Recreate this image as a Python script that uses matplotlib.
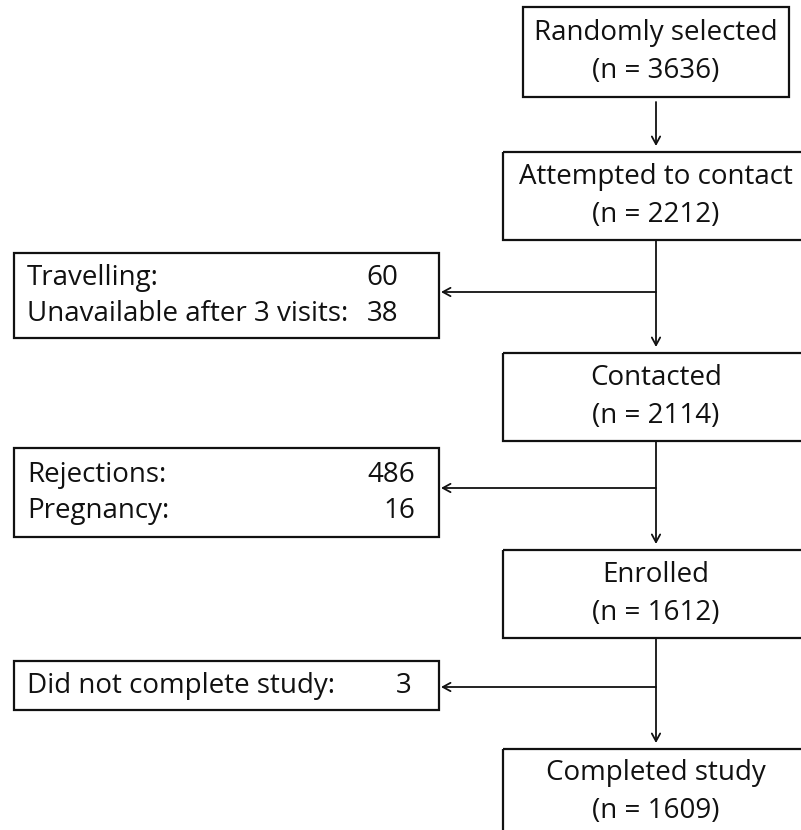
import matplotlib
matplotlib.use("Agg")
import matplotlib.pyplot as plt
from matplotlib.patches import Rectangle

# flow stages (right column)
stage_labels = ["Randomly selected", "Attempted to contact", "Contacted",
                "Enrolled", "Completed study"]
stage_counts = [3636, 2212, 2114, 1612, 1609]

# exclusions (left column), one box between consecutive stages
excl_labels = [["Travelling:", "Unavailable after 3 visits:"],
               ["Rejections:", "Pregnancy:"],
               ["Did not complete study:"]]
excl_counts = [[60, 38], [486, 16], [3]]

plt.rcParams['font.family'] = ['Open Sans', 'DejaVu Sans']
FS = 20
INK = "#111111"

fig = plt.figure(figsize=(8.01, 8.30), dpi=100)
ax = fig.add_axes([0, 0, 1, 1])
ax.set_xlim(0, 801)
ax.set_ylim(830, 0)
ax.axis("off")

cx = 656
# box geometry in pixels: (left, right, top, bottom)
stage_boxes = [(523, 789, 7, 97), (503, 809, 152, 240), (503, 809, 353, 441),
               (503, 809, 550, 638), (503, 809, 749, 837)]
excl_boxes = [(14, 439, 253, 338), (14, 439, 448, 537), (14, 439, 661, 710)]
excl_arrow_y = [292, 488, 687]

def box(l, r, t, b):
    ax.add_patch(Rectangle((l, t), r - l, b - t, fill=False, ec=INK, lw=1.6,
                           clip_on=False))

def arrow(x0, y0, x1, y1):
    ax.annotate("", xy=(x1, y1), xytext=(x0, y0),
                arrowprops=dict(arrowstyle="->,head_length=0.55,head_width=0.3",
                                color=INK, lw=1.3, shrinkA=0, shrinkB=0))

for (l, r, t, b), lab, n in zip(stage_boxes, stage_labels, stage_counts):
    box(l, r, t, b)
    mid = (t + b) / 2 if b < 830 else 792
    ax.text(cx, mid - 19, lab, ha="center", va="center", fontsize=FS, color=INK)
    ax.text(cx, mid + 19, f"(n = {n})", ha="center", va="center", fontsize=FS, color=INK)

# vertical connectors between stages
for i in range(len(stage_boxes) - 1):
    b = stage_boxes[i][3]
    t = stage_boxes[i + 1][2]
    arrow(cx, b + 5 if i == 0 else b, cx, t - 6)

# exclusion boxes
num_right = [398, 415, 412]
for (l, r, t, b), labs, vals, ay, nr in zip(excl_boxes, excl_labels, excl_counts,
                                            excl_arrow_y, num_right):
    box(l, r, t, b)
    mid = (t + b) / 2
    k = len(labs)
    for j, (lab, v) in enumerate(zip(labs, vals)):
        y = mid + (j - (k - 1) / 2) * 36
        ax.text(27, y, lab, ha="left", va="center", fontsize=FS, color=INK)
        ax.text(nr, y, str(v), ha="right", va="center", fontsize=FS, color=INK)
    arrow(cx, ay, r + 2, ay)

fig.savefig("out.png", dpi=100)
